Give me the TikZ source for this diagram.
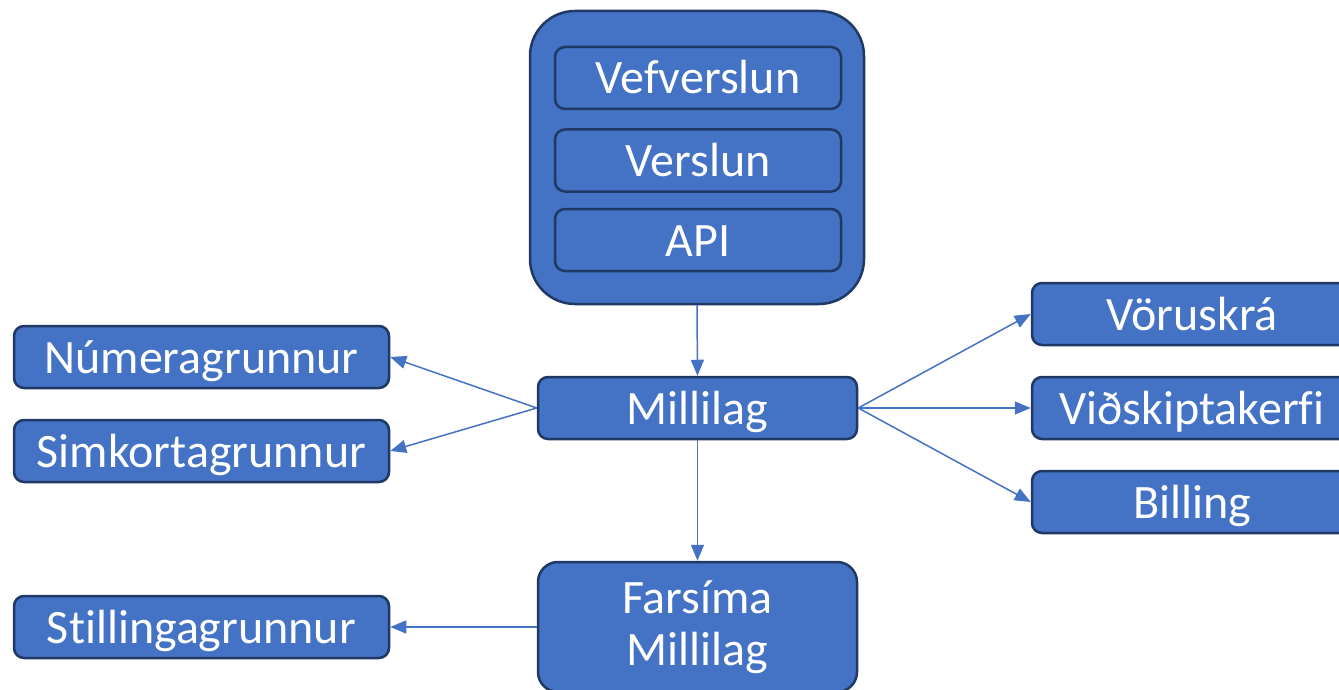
\documentclass[tikz,border=0pt]{standalone}
\usepackage{fontspec}
\setmainfont[Ligatures=NoCommon]{Carlito}
\usetikzlibrary{arrows.meta}
\definecolor{boxfill}{HTML}{4472C4}
\definecolor{boxline}{HTML}{1F3864}
\begin{document}
\begin{tikzpicture}[x=1pt,y=-1pt,
  box/.style={draw=boxline, fill=boxfill, line width=2.5pt, rounded corners=10pt,
    text=white, font=\fontsize{48}{52}\selectfont, inner sep=0pt, align=center,
    text height=40pt, text depth=8pt},
  small/.style={box, minimum width=375pt, minimum height=62pt},
  mid/.style={box, minimum width=319pt, minimum height=62pt},
  right/.style={box, minimum width=320pt, minimum height=62pt},
  inner/.style={box, minimum width=286pt, minimum height=62pt},
  conn/.style={draw=boxfill, line width=1.5pt, -{Triangle[length=16pt,width=13pt]}}]
\useasboundingbox (0,0) rectangle (1339,690);
\clip (0,0) rectangle (1339,690);
% container
\node[box, rounded corners=45pt, minimum width=334pt, minimum height=293pt, text height=, text depth=] (cont) at (697,157.5) {};
\node[inner] (vef) at (698,78) {Vefverslun};
\node[inner] (ver) at (698,160.5) {Verslun};
\node[inner] (api) at (698,240) {API};
% middle
\node[mid] (mill) at (697.5,408) {Millilag};
\node[box, rounded corners=20pt, minimum width=319pt, minimum height=130pt, text height=, text depth=] (far) at (697.5,627) {Farsíma\\Millilag};
% left
\node[small] (num) at (201.5,357) {Númeragrunnur};
\node[small] (sim) at (201.5,451) {Simkortagrunnur};
\node[small] (sti) at (201.5,627) {Stillingagrunnur};
% right
\node[right] (vor) at (1192,314) {Vöruskrá};
\node[right] (vid) at (1192,408) {Viðskiptakerf\kern0pt i};
\node[right] (bil) at (1192,502) {Billing};
% connectors
\draw[conn] (cont.south) -- (mill.north);
\draw[conn] (mill.west) -- (num.east);
\draw[conn] (mill.west) -- (sim.east);
\draw[conn] (mill.east) -- (vor.west);
\draw[conn] (mill.east) -- (vid.west);
\draw[conn] (mill.east) -- (bil.west);
\draw[conn] (mill.south) -- (far.north);
\draw[conn] (far.west) -- (sti.east);
\end{tikzpicture}
\end{document}
